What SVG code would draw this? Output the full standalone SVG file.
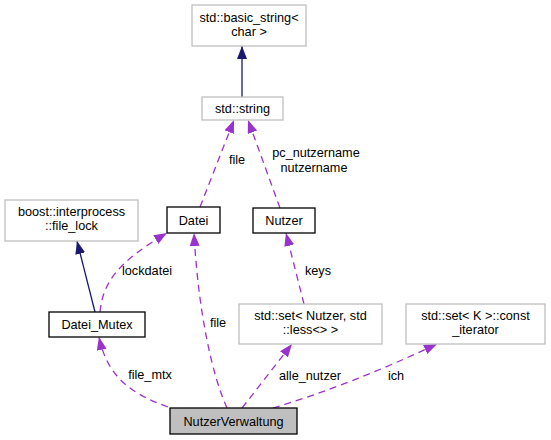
<svg xmlns="http://www.w3.org/2000/svg" width="551" height="440" viewBox="0 0 551 440">
<style>
  text { font-family: "Liberation Sans", Arial, sans-serif; font-size: 12.7px; fill: #000; text-anchor: middle; }
  .ext { fill: #fff; stroke: #bfbfbf; stroke-width: 1.3; }
  .doc { fill: #fff; stroke: #000; stroke-width: 1.3; }
  .main { fill: #bfbfbf; stroke: #000; stroke-width: 1.3; }
  .use { fill: none; stroke: #9a32cd; stroke-width: 1.3; stroke-dasharray: 7,5; marker-end: url(#ap); }
  .inh { fill: none; stroke: #191970; stroke-width: 1.3; marker-end: url(#an); }
</style>
<defs>
  <marker id="ap" viewBox="0 0 13 10" refX="13" refY="5" markerWidth="13" markerHeight="10" markerUnits="userSpaceOnUse" orient="auto">
    <path d="M0,0 L13,5 L0,10 Z" fill="#9a32cd"/>
  </marker>
  <marker id="an" viewBox="0 0 13 10" refX="13" refY="5" markerWidth="13" markerHeight="10" markerUnits="userSpaceOnUse" orient="auto">
    <path d="M0,0 L13,5 L0,10 Z" fill="#191970"/>
  </marker>
</defs>
<rect width="551" height="440" fill="#fff"/>
<g id="connectors">
  <path class="inh" d="M242,97 L242,46"/>
  <path class="use" d="M200,207 L234,120"/>
  <text x="237" y="164">file</text>
  <path class="use" d="M280,208 L248,120"/>
  <text x="316" y="157">pc_nutzername</text>
  <text x="314" y="172">nutzername</text>
  <path class="inh" d="M95,312 L77,241"/>
  <path class="use" d="M100,312 C103,282 118,262 167,233"/>
  <text x="147" y="275">lockdatei</text>
  <path class="use" d="M227,408 C212,375 198,310 194,233"/>
  <text x="218" y="327">file</text>
  <path class="use" d="M168,407 C135,395 108,380 99,337"/>
  <text x="150" y="379">file_mtx</text>
  <path class="use" d="M242,408 L292,344"/>
  <text x="310" y="380">alle_nutzer</text>
  <path class="use" d="M304,304 L286,233"/>
  <text x="318" y="275">keys</text>
  <path class="use" d="M273,408 Q350,385 437,344"/>
  <text x="396" y="380">ich</text>
</g>
<g id="node-basic_string">
  <rect class="ext" x="192" y="5" width="114" height="41"/>
  <text x="249" y="22">std::basic_string&lt;</text>
  <text x="249" y="36">char &gt;</text>
</g>
<g id="node-string">
  <rect class="ext" x="202" y="97" width="81" height="23"/>
  <text x="242.5" y="113">std::string</text>
</g>
<g id="node-file_lock">
  <rect class="ext" x="5" y="200" width="133" height="41"/>
  <text x="71.5" y="216">boost::interprocess</text>
  <text x="71.5" y="230">::file_lock</text>
</g>
<g id="node-Datei">
  <rect class="doc" x="167" y="207" width="53" height="26"/>
  <text x="193.5" y="224.5">Datei</text>
</g>
<g id="node-Nutzer">
  <rect class="doc" x="253" y="208" width="62" height="25"/>
  <text x="284" y="224.5">Nutzer</text>
</g>
<g id="node-Datei_Mutex">
  <rect class="doc" x="49" y="312" width="96" height="25"/>
  <text x="97" y="328.5">Datei_Mutex</text>
</g>
<g id="node-set_Nutzer">
  <rect class="ext" x="239" y="304" width="143" height="40"/>
  <text x="310.5" y="320">std::set&lt; Nutzer, std</text>
  <text x="310.5" y="334">::less&lt;&gt; &gt;</text>
</g>
<g id="node-set_K">
  <rect class="ext" x="406" y="304" width="139" height="40"/>
  <text x="475.5" y="320">std::set&lt; K &gt;::const</text>
  <text x="475.5" y="334">_iterator</text>
</g>
<g id="node-NutzerVerwaltung">
  <rect class="main" x="170" y="408" width="127" height="26"/>
  <text x="233.5" y="425.5">NutzerVerwaltung</text>
</g>
</svg>
